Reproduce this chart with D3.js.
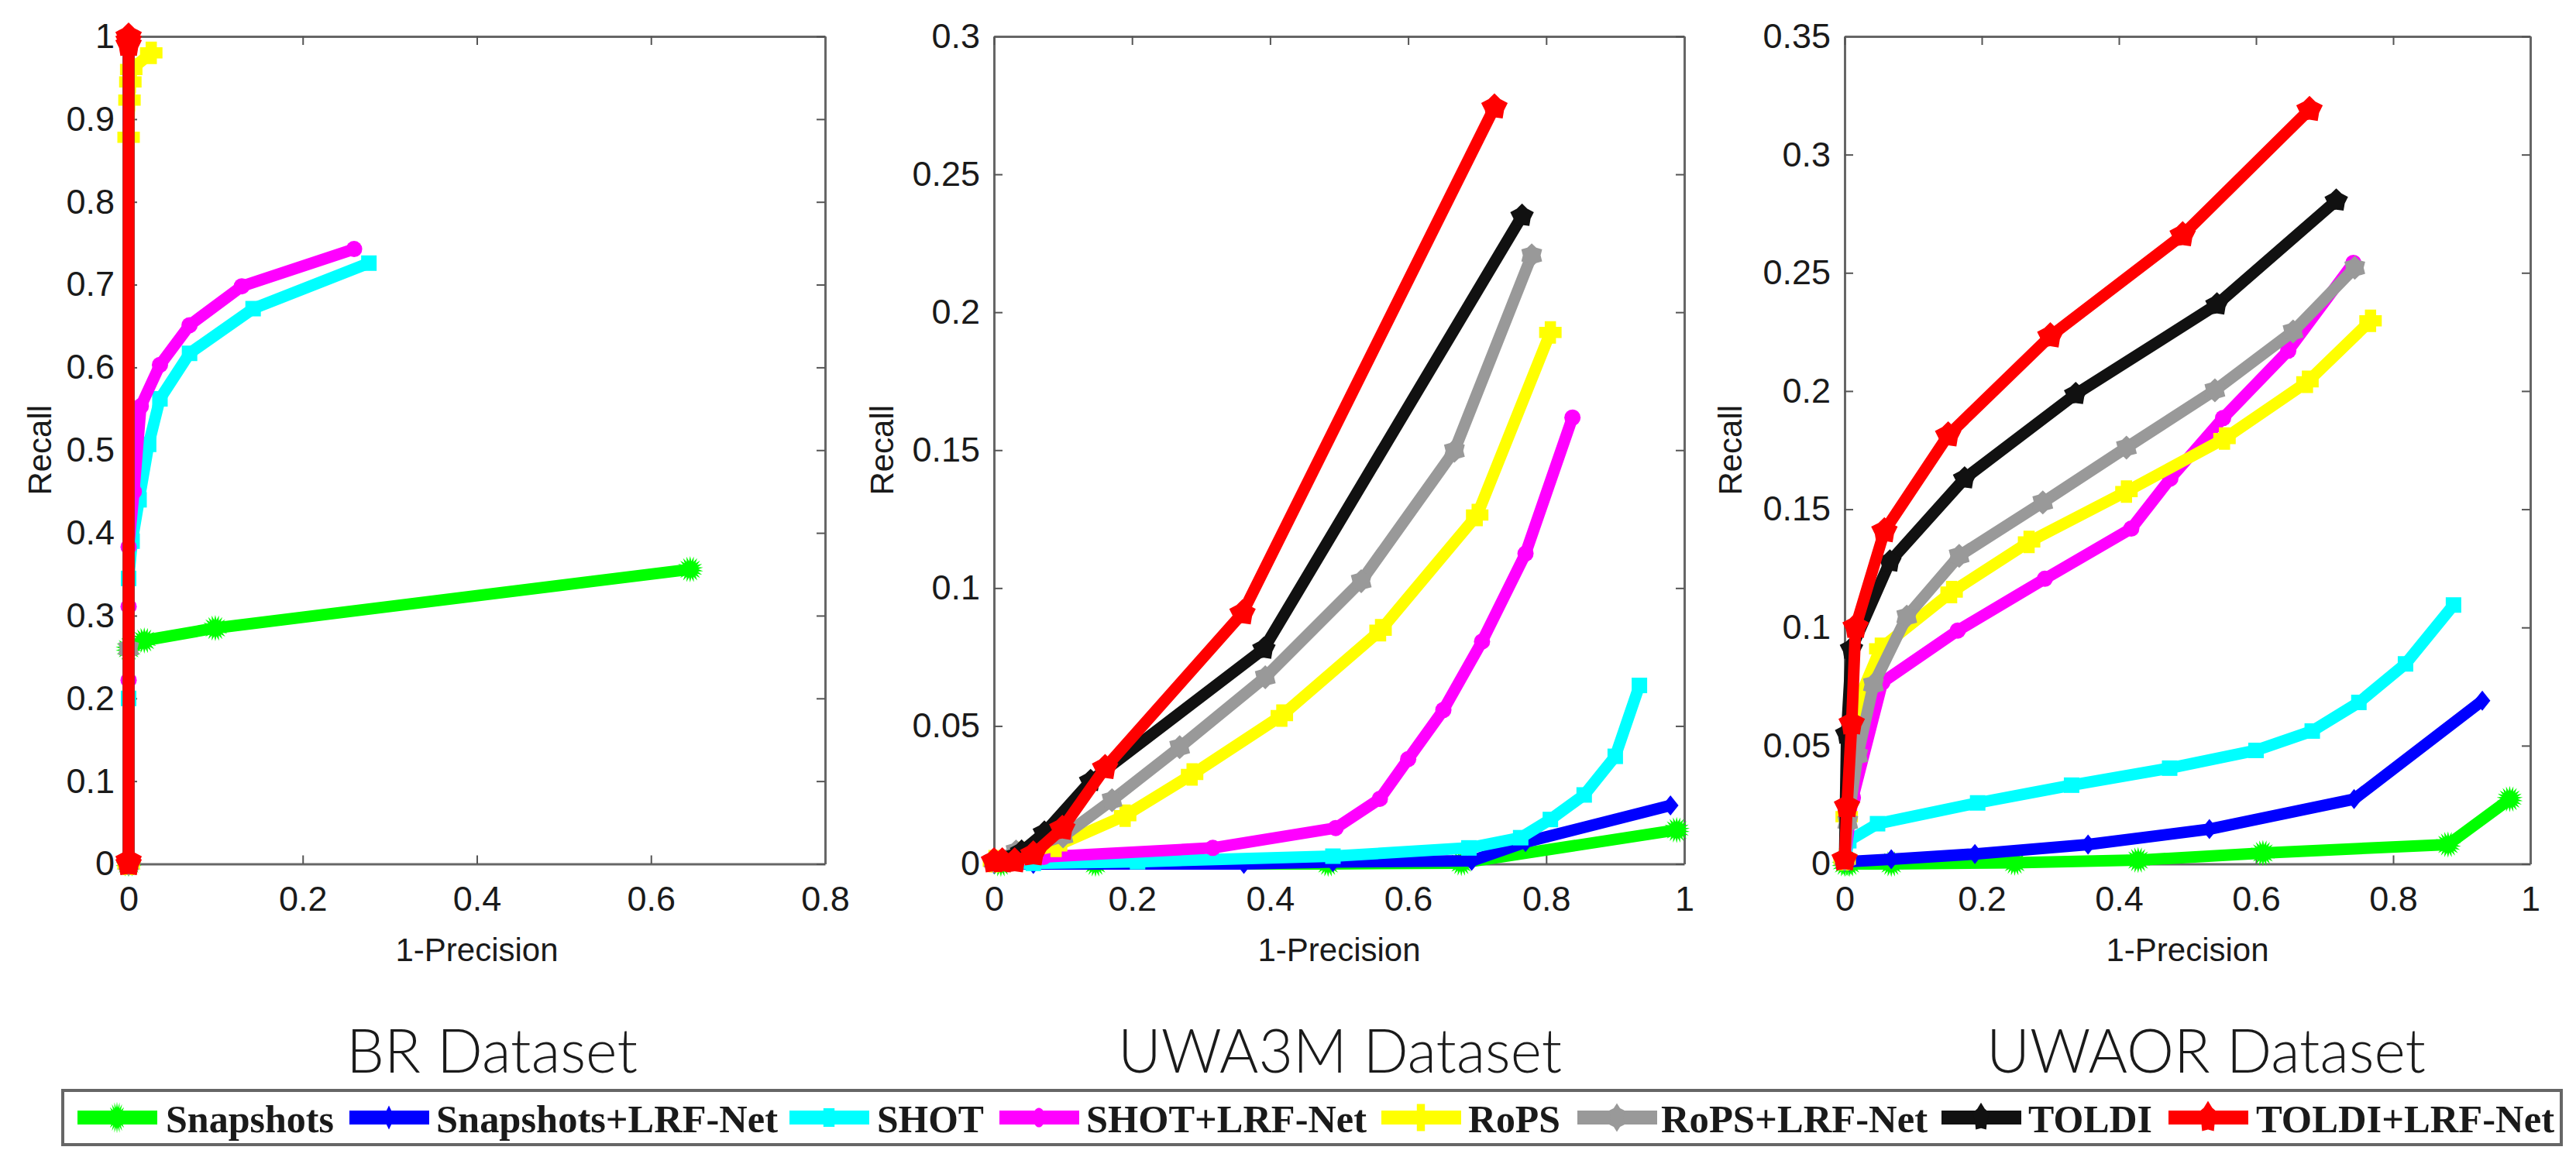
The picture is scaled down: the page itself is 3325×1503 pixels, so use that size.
<!DOCTYPE html>
<html lang="en">

<head>
    <meta charset="utf-8">
    <title>Recall vs 1-Precision</title>
    <script src="https://d3js.org/d3.v7.min.js"></script>
    <style>
        body { margin: 0; background: #fff; }
        svg { display: block; }
        text { fill: #1a1a1a; }
    </style>
</head>

<body>
    <svg id="chart" width="3325" height="1503"></svg>
    <script>
        const seriesNames = ['Snapshots', 'Snapshots+LRF-Net', 'SHOT', 'SHOT+LRF-Net', 'RoPS', 'RoPS+LRF-Net', 'TOLDI', 'TOLDI+LRF-Net'];

        // BR dataset, [1-precision, recall]
        const brSnapshots = [[0, 0], [0, .26], [.018, .27], [.0996, .285], [.645, .356]];
        const brSnapshotsLrf = [[0, 0], [0, 1]];
        const brShot = [[0, 0], [0, .2], [0, .345], [.004, .39], [.012, .44], [.023, .507], [.036, .562], [.07, .617], [.143, .671], [.276, .726]];
        const brShotLrf = [[0, 0], [0, .222], [0, .311], [0, .383], [.006, .45], [.014, .553], [.036, .603], [.07, .651], [.13, .698], [.259, .743]];
        const brRops = [[0, 0], [0, .878], [.001, .923], [.002, .945], [.003, .96], [.026, .98]];
        const brRopsLrf = [[0, 0], [0, .26], [0, 1]];
        const brToldi = [[0, 0], [0, 1]];
        const brToldiLrf = [[0, 0], [0, .004], [0, .99], [0, .995], [0, 1]];

        // UWA3M dataset
        const uwa3mSnapshots = [[.01, 0], [.147, 0], [.484, 0], [.677, .0003], [.989, .0123]];
        const uwa3mSnapshotsLrf = [[0, 0], [.057, 0], [.362, 0], [.491, .0007], [.692, .0011], [.77, .0079], [.98, .0212]];
        const uwa3mShot = [[0, 0], [.057, .0002], [.208, .0008], [.491, .0028], [.688, .0058], [.763, .0095], [.806, .0161], [.855, .025], [.9, .039], [.935, .0647]];
        const uwa3mShotLrf = [[0, .0005], [.072, .0025], [.317, .0058], [.495, .013], [.559, .0236], [.6, .038], [.651, .0558], [.707, .0806], [.77, .1125], [.838, .1618]];
        const uwa3mRops = [[0, .001], [.04, .004], [.09, .0065], [.19, .0175], [.287, .0324], [.417, .0538], [.56, .0847], [.7, .1265], [.806, .1927]];
        const uwa3mRopsLrf = [[0, .001], [.032, .0045], [.1, .01], [.171, .0231], [.269, .0423], [.393, .0677], [.532, .1025], [.667, .1498], [.779, .2206]];
        const uwa3mToldi = [[0, .001], [.04, .0044], [.073, .0113], [.14, .03], [.391, .078], [.765, .2349]];
        const uwa3mToldiLrf = [[0, .001], [.012, .001], [.03, .001], [.057, .0035], [.099, .0128], [.161, .0348], [.36, .0909], [.725, .2743]];

        // UWAOR dataset
        const uwaorSnapshots = [[0, 0], [.007, 0], [.068, 0], [.248, .0005], [.428, .0016], [.61, .0046], [.88, .0082], [.97, .0274]];
        const uwaorSnapshotsLrf = [[0, .001], [.007, .001], [.068, .002], [.19, .0042], [.355, .0082], [.532, .0147], [.743, .0274], [.93, .069]];
        const uwaorShot = [[0, .001], [.006, .0098], [.048, .017], [.194, .0258], [.331, .0333], [.474, .0405], [.6, .048], [.682, .0562], [.75, .0683], [.818, .0846], [.888, .1095]];
        const uwaorShotLrf = [[0, .002], [.012, .028], [.055, .0768], [.165, .0987], [.292, .1206], [.418, .1418], [.475, .163], [.552, .1886], [.647, .2171], [.742, .2542]];
        const uwaorRops = [[0, .002], [.003, .02], [.02, .069], [.052, .091], [.156, .115], [.269, .1362], [.411, .1575], [.554, .1799], [.675, .2039], [.767, .2297]];
        const uwaorRopsLrf = [[0, .002], [.0045, .0176], [.019, .0458], [.042, .0758], [.0906, .1046], [.167, .1303], [.289, .1529], [.411, .1761], [.54, .2003], [.654, .2252], [.744, .2521]];
        const uwaorToldi = [[0, .002], [.003, .055], [.01, .091], [.066, .1278], [.175, .163], [.337, .1987], [.543, .2366], [.717, .2805]];
        const uwaorToldiLrf = [[0, .002], [.0035, .0245], [.0103, .0595], [.016, .1003], [.058, .1408], [.151, .1813], [.3, .2232], [.493, .266], [.678, .319]];

        const brXTicks = [0, .2, .4, .6, .8];
        const unitXTicks = [0, .2, .4, .6, .8, 1];
        const brYTicks = [0, .1, .2, .3, .4, .5, .6, .7, .8, .9, 1];
        const uwa3mYTicks = [0, .05, .1, .15, .2, .25, .3];
        const uwaorYTicks = [0, .05, .1, .15, .2, .25, .3, .35];

        const colors = ['#00ff00', '#0000ff', '#00ffff', '#ff00ff', '#ffff00', '#999999', '#111111', '#ff0000'];

        // marker shapes, star(n, inner) gives an n pointed star
        function star(n, inner) {
            return {
                draw(ctx, size) {
                    for (let i = 0; i < n * 2; i++) {
                        let r = i % 2 ? size * inner : size;
                        let a = Math.PI * i / n - Math.PI / 2;
                        if (i == 0) ctx.moveTo(r * Math.cos(a), r * Math.sin(a));
                        else ctx.lineTo(r * Math.cos(a), r * Math.sin(a));
                    }
                    ctx.closePath();
                }
            };
        }
        const narrowDiamond = {
            draw(ctx, size) {
                ctx.moveTo(0, -size);
                ctx.lineTo(size * .8, 0);
                ctx.lineTo(0, size);
                ctx.lineTo(-size * .8, 0);
                ctx.closePath();
            }
        };
        const square = {
            draw(ctx, size) { ctx.rect(-size, -size, size * 2, size * 2); }
        };
        const plus = {
            draw(ctx, size) {
                let t = size * .5;
                ctx.moveTo(-t, -size); ctx.lineTo(t, -size); ctx.lineTo(t, -t); ctx.lineTo(size, -t);
                ctx.lineTo(size, t); ctx.lineTo(t, t); ctx.lineTo(t, size); ctx.lineTo(-t, size);
                ctx.lineTo(-t, t); ctx.lineTo(-size, t); ctx.lineTo(-size, -t); ctx.lineTo(-t, -t);
                ctx.closePath();
            }
        };
        const circle = {
            draw(ctx, size) { ctx.moveTo(size, 0); ctx.arc(0, 0, size, 0, 2 * Math.PI); }
        };
        const markerTypes = [star(22, .62), narrowDiamond, square, circle, plus, star(6, .74), star(5, .72), star(5, .72)];
        const markerSizes = [17, 13, 10, 10.5, 14.5, 15.5, 16, 18];

        const panels = [
            {
                left: 166, right: 1065, xMax: .8, yMax: 1, xTicks: brXTicks, yTicks: brYTicks, labelX: 51,
                title: 'BR Dataset', titleX: 447, titleW: 376,
                series: [brSnapshots, brSnapshotsLrf, brShot, brShotLrf, brRops, brRopsLrf, brToldi, brToldiLrf]
            },
            {
                left: 1283, right: 2174, xMax: 1, yMax: .3, xTicks: unitXTicks, yTicks: uwa3mYTicks, labelX: 1138,
                title: 'UWA3M Dataset', titleX: 1443, titleW: 573,
                series: [uwa3mSnapshots, uwa3mSnapshotsLrf, uwa3mShot, uwa3mShotLrf, uwa3mRops, uwa3mRopsLrf, uwa3mToldi, uwa3mToldiLrf]
            },
            {
                left: 2381, right: 3266, xMax: 1, yMax: .35, xTicks: unitXTicks, yTicks: uwaorYTicks, labelX: 2233,
                title: 'UWAOR Dataset', titleX: 2564, titleW: 567,
                series: [uwaorSnapshots, uwaorSnapshotsLrf, uwaorShot, uwaorShotLrf, uwaorRops, uwaorRopsLrf, uwaorToldi, uwaorToldiLrf]
            }
        ];

        const plotTop = 47, plotBottom = 1115.5;
        const svg = d3.select('#chart');
        const axisFont = '"Liberation Sans", Arial, sans-serif';

        function drawMarker(g, transform, i) {
            g.append('path')
                .attr('d', d3.symbol().type(markerTypes[i]).size(markerSizes[i])())
                .attr('transform', transform)
                .attr('fill', colors[i]);
        }

        function renderPanel(p) {
            let scaleX = d3.scaleLinear().domain([0, p.xMax]).range([p.left, p.right]);
            let scaleY = d3.scaleLinear().domain([0, p.yMax]).range([plotBottom, plotTop]);
            let line = d3.line().x(d => scaleX(d[0])).y(d => scaleY(d[1]));

            let axes = [
                [d3.axisBottom(scaleX).tickValues(p.xTicks), `translate(0,${plotBottom})`, true, 29],
                [d3.axisLeft(scaleY).tickValues(p.yTicks), `translate(${p.left},0)`, true, 18],
                [d3.axisTop(scaleX).tickValues(p.xTicks), `translate(0,${plotTop})`, false, 18],
                [d3.axisRight(scaleY).tickValues(p.yTicks), `translate(${p.right},0)`, false, 18]
            ];
            for (let [axis, transform, labels, padding] of axes) {
                let g = svg.append('g')
                    .attr('transform', transform)
                    .call(axis.tickSize(-11).tickSizeOuter(0).tickPadding(padding)
                        .tickFormat(labels ? d => String(d) : ''));
                g.select('.domain').attr('stroke', '#666').attr('stroke-width', 3);
                g.selectAll('.tick line').attr('stroke', '#555').attr('stroke-width', 2);
                g.selectAll('text')
                    .attr('font-family', axisFont)
                    .attr('font-size', 45)
                    .attr('fill', '#1a1a1a');
            }

            p.series.forEach((points, i) => {
                let g = svg.append('g');
                g.append('path')
                    .datum(points)
                    .attr('fill', 'none')
                    .attr('stroke', colors[i])
                    .attr('stroke-width', 15)
                    .attr('stroke-linejoin', 'round')
                    .attr('d', line);
                points.forEach(d => drawMarker(g, `translate(${scaleX(d[0])},${scaleY(d[1])})`, i));
            });

            svg.append('text')
                .attr('x', (p.left + p.right) / 2)
                .attr('y', 1241)
                .attr('text-anchor', 'middle')
                .attr('font-family', axisFont)
                .attr('font-size', 42)
                .text('1-Precision');

            svg.append('text')
                .attr('transform', `translate(${p.labelX + 15},${(plotTop + plotBottom) / 2}) rotate(-90)`)
                .attr('text-anchor', 'middle')
                .attr('font-family', axisFont)
                .attr('font-size', 42)
                .text('Recall');

            svg.append('text')
                .attr('x', p.titleX)
                .attr('y', 1385)
                .attr('font-family', 'Lato, "Open Sans", sans-serif')
                .attr('font-weight', 300)
                .attr('font-size', 78)
                .attr('fill', '#000')
                .attr('textLength', p.titleW)
                .attr('lengthAdjust', 'spacingAndGlyphs')
                .text(p.title);
        }

        function renderLegend() {
            svg.append('rect')
                .attr('x', 81).attr('y', 1408)
                .attr('width', 3225).attr('height', 70)
                .attr('fill', '#fff')
                .attr('stroke', '#666')
                .attr('stroke-width', 4);

            const lineStarts = [100, 451, 1019, 1290, 1783, 2036, 2506, 2799];
            const textStarts = [214, 563, 1132, 1402, 1895, 2144, 2618, 2912];
            const textEnds = [431, 1004, 1270, 1764, 2014, 2488, 2778, 3297];
            seriesNames.forEach((name, i) => {
                let g = svg.append('g');
                g.append('line')
                    .attr('x1', lineStarts[i]).attr('x2', lineStarts[i] + 103)
                    .attr('y1', 1443).attr('y2', 1443)
                    .attr('stroke', colors[i])
                    .attr('stroke-width', 18);
                // the legend was squeezed sideways in the source figure
                drawMarker(g, `translate(${lineStarts[i] + 51},1443) scale(.72,1.2)`, i);
                g.append('text')
                    .attr('x', textStarts[i])
                    .attr('y', 1462)
                    .attr('font-family', '"Liberation Serif", "Times New Roman", serif')
                    .attr('font-weight', 'bold')
                    .attr('font-size', 51)
                    .attr('fill', '#000')
                    .attr('textLength', textEnds[i] - textStarts[i])
                    .attr('lengthAdjust', 'spacingAndGlyphs')
                    .text(name);
            });
        }

        panels.forEach(renderPanel);
        renderLegend();
    </script>
</body>

</html>
